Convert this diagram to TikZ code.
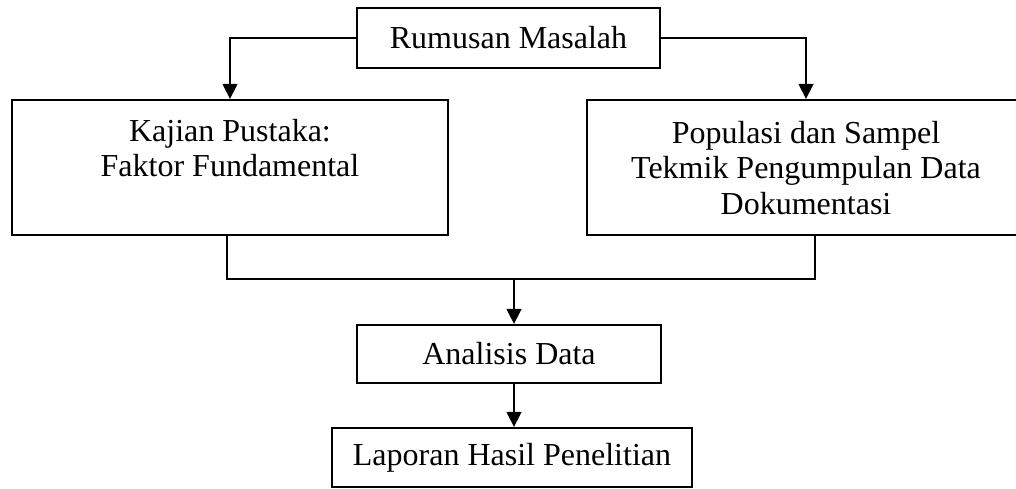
\documentclass[tikz,border=0pt]{standalone}
\usepackage{fontspec}
\setmainfont{Liberation Serif}
\usetikzlibrary{arrows.meta,calc}
\begin{document}
\begin{tikzpicture}[x=1pt,y=-1pt,
 box/.style={draw=black, line width=2.3pt, inner sep=0pt, font=\fontsize{32}{35.5}\selectfont},
 txt/.style={inner sep=0pt, align=center, anchor=north, font=\fontsize{32}{35.5}\selectfont},
 conn/.style={draw=black, line width=1.5pt},
 arr/.style={conn, -{Triangle[width=15pt,length=15pt]}}]
\useasboundingbox (0,0) rectangle (1016,488);
\fill[white] (0,0) rectangle (1016,488);
\clip (0,0) rectangle (1016,488);
\node[box, minimum width=303pt, minimum height=60pt] (rm) at (508.5,38) {Rumusan Masalah};
\node[box, minimum width=436pt, minimum height=135pt] (kp) at (230,167.5) {};
\node[txt] (kpt) at (230,119) {Kajian Pustaka:\\Faktor Fundamental};
\node[box, minimum width=438pt, minimum height=135pt] (ps) at (806,167.5) {};
\node[txt] (pst) at (806,121) {Populasi dan Sampel\\Tekmik Pengumpulan Data\\Dokumentasi};
\node[box, minimum width=304pt, minimum height=58pt] (ad) at (509,354) {Analisis Data};
\node[box, minimum width=360pt, minimum height=59pt] (lp) at (512,457.5) {Laporan Hasil Penelitian};
\coordinate (jl) at (227,279);
\coordinate (jm) at (514,279);
\coordinate (jr) at (815,279);
\draw[arr] (rm.west) -| (kp.north);
\draw[arr] (rm.east) -| (ps.north);
\draw[conn] (kp.south -| jl) |- (jm) -| (ps.south -| jr);
\draw[arr] (jm) -- (ad.north -| jm);
\draw[arr] (ad.south -| jm) -- (lp.north -| jm);
\end{tikzpicture}
\end{document}
